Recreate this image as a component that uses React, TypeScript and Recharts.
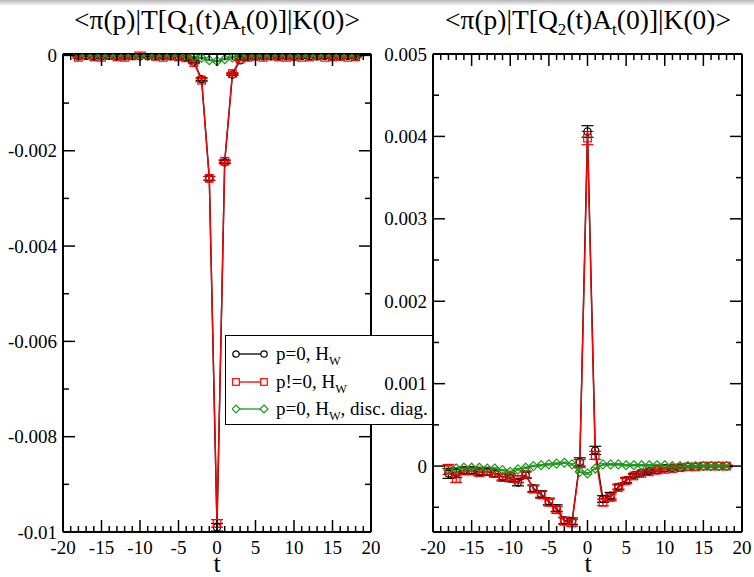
import { LineChart, Line, XAxis, YAxis, ErrorBar } from "recharts";

// time slices
const T = [-18, -17, -16, -15, -14, -13, -12, -11, -10, -9, -8, -7, -6, -5, -4, -3, -2, -1, 0,
  1, 2, 3, 4, 5, 6, 7, 8, 9, 10, 11, 12, 13, 14, 15, 16, 17, 18];

// Q1 panel
const q1P0 = [-0.00002, -0.00001, -0.00002, -0.00002, -0.00001, -0.00002, -0.00002, -0.00001, -0.00002, -0.00002,
  -0.00002, -0.00002, -0.00002, -0.00003, -0.00004, -0.00013, -0.0005, -0.00258, -0.0099,
  -0.00224, -0.0004, -0.0001, -0.00003, -0.00002, -0.00002, -0.00002, -0.00001, -0.00002, -0.00002,
  -0.00001, -0.00002, -0.00002, -0.00001, -0.00002, -0.00002, -0.00001, -0.00002];
const q1P0Err = [0.00001, 0.00001, 0.00001, 0.00001, 0.00001, 0.00001, 0.00001, 0.00001, 0.00001, 0.00001,
  0.00001, 0.00001, 0.00001, 0.00001, 0.00001, 0.00002, 0.00003, 0.00004, 0.00008,
  0.00003, 0.00002, 0.00001, 0.00001, 0.00001, 0.00001, 0.00001, 0.00001, 0.00001, 0.00001,
  0.00001, 0.00001, 0.00001, 0.00001, 0.00001, 0.00001, 0.00001, 0.00001];
const q1Pn0 = [-0.00004, 0.00001, -0.00003, -0.00004, 0.0, -0.00003, -0.00004, -0.00001, 0.00005, 0.00002,
  -0.00002, -0.00004, -0.00001, -0.00003, -0.00005, -0.00015, -0.00052, -0.00258, -0.00982,
  -0.00222, -0.00038, -0.00008, -0.00004, -0.00002, -0.00004, -0.00001, -0.00003, -0.00004, -0.00002,
  -0.00004, -0.00003, -0.00001, -0.00004, -0.00003, -0.00002, -0.00004, -0.00003];
const q1Pn0Err = [0.00002, 0.00002, 0.00002, 0.00002, 0.00002, 0.00002, 0.00002, 0.00002, 0.00002, 0.00002,
  0.00002, 0.00002, 0.00002, 0.00002, 0.00002, 0.00002, 0.00003, 0.00004, 0.00008,
  0.00003, 0.00002, 0.00002, 0.00002, 0.00002, 0.00002, 0.00002, 0.00002, 0.00002, 0.00002,
  0.00002, 0.00002, 0.00002, 0.00002, 0.00002, 0.00002, 0.00002, 0.00002];
const q1Disc = [0.00001, 0.00001, 0.00001, 0.00001, 0.00001, 0.00001, 0.00001, 0.00001, 0.00001, 0.00001,
  0.00001, 0.00001, 0.00001, 0.00001, 0.0, -0.00003, -0.00005, -0.0001, -0.00012,
  -0.00008, -0.00004, -0.00001, 0.00001, 0.00001, 0.00001, 0.00001, 0.00001, 0.00001, 0.00001,
  0.00001, 0.00001, 0.00001, 0.00001, 0.00001, 0.00001, 0.00001, 0.00001];
const q1DiscErr = [0.00001, 0.00001, 0.00001, 0.00001, 0.00001, 0.00001, 0.00001, 0.00001, 0.00001, 0.00001,
  0.00001, 0.00001, 0.00001, 0.00001, 0.00001, 0.00001, 0.00001, 0.00001, 0.00001,
  0.00001, 0.00001, 0.00001, 0.00001, 0.00001, 0.00001, 0.00001, 0.00001, 0.00001, 0.00001,
  0.00001, 0.00001, 0.00001, 0.00001, 0.00001, 0.00001, 0.00001, 0.00001];

// Q2 panel
const q2P0 = [-0.00009, -0.00008, -0.00005, -0.00005, -0.00007, -0.00007, -0.00009, -0.00013, -0.00015, -0.0002,
  -0.00011, -0.00027, -0.00034, -0.00043, -0.00051, -0.00066, -0.00067, 0.00005, 0.00406,
  0.00019, -0.0004, -0.00036, -0.00025, -0.00017, -0.00011, -0.00008, -0.00006, -0.00005, -0.00003,
  -0.00002, -0.00002, -0.00001, -0.00001, 0.0, 0.0, 0.0, 0.0];
const q2P0Err = [0.00006, 0.00006, 0.00004, 0.00004, 0.00004, 0.00004, 0.00004, 0.00004, 0.00004, 0.00004,
  0.00004, 0.00004, 0.00004, 0.00004, 0.00004, 0.00004, 0.00004, 0.00005, 0.00007,
  0.00005, 0.00004, 0.00004, 0.00003, 0.00003, 0.00002, 0.00002, 0.00002, 0.00002, 0.00001,
  0.00001, 0.00001, 0.00001, 0.00001, 0.00001, 0.00001, 0.00001, 0.00001];
const q2Pn0 = [-0.00004, -0.00015, -0.00006, -0.00006, -0.00008, -0.00006, -0.00009, -0.00014, -0.00013, -0.00016,
  -0.0001, -0.00028, -0.00035, -0.00044, -0.00053, -0.00067, -0.00069, 0.00003, 0.00398,
  0.00013, -0.00044, -0.00038, -0.00026, -0.00018, -0.00012, -0.00009, -0.00007, -0.00005, -0.00004,
  -0.00003, -0.00002, -0.00001, -0.00001, 0.0, 0.0, 0.0, 0.0];
const q2Pn0Err = [0.00006, 0.00005, 0.00004, 0.00004, 0.00004, 0.00004, 0.00004, 0.00004, 0.00004, 0.00004,
  0.00004, 0.00004, 0.00004, 0.00004, 0.00004, 0.00004, 0.00004, 0.00005, 0.00008,
  0.00005, 0.00004, 0.00004, 0.00003, 0.00003, 0.00002, 0.00002, 0.00002, 0.00002, 0.00002,
  0.00001, 0.00001, 0.00001, 0.00001, 0.00001, 0.00001, 0.00001, 0.00001];
const q2Disc = [-0.00005, -0.00003, -0.00002, -0.00002, -0.00002, -0.00003, -0.00003, -0.00005, -0.00007, -0.00004,
  -0.00002, 0.0, 0.00001, 0.00002, 0.00003, 0.00004, 0.00002, -0.00007, -0.00009,
  -0.00003, 0.00002, 0.00002, 0.00002, 0.00001, 0.00001, 0.00001, 0.00001, 0.00001, 0.00001,
  0.0, 0.0, 0.0, 0.0, 0.0, 0.0, 0.0, 0.0];
const q2DiscErr = [0.00001, 0.00001, 0.00001, 0.00001, 0.00001, 0.00001, 0.00001, 0.00001, 0.00001, 0.00001,
  0.00001, 0.00001, 0.00001, 0.00001, 0.00001, 0.00001, 0.00001, 0.00001, 0.00001,
  0.00001, 0.00001, 0.00001, 0.00001, 0.00001, 0.00001, 0.00001, 0.00001, 0.00001, 0.00001,
  0.00001, 0.00001, 0.00001, 0.00001, 0.00001, 0.00001, 0.00001, 0.00001];

// ticks
const X_TICKS = [-20, -19, -18, -17, -16, -15, -14, -13, -12, -11, -10, -9, -8, -7, -6, -5, -4, -3, -2, -1, 0,
  1, 2, 3, 4, 5, 6, 7, 8, 9, 10, 11, 12, 13, 14, 15, 16, 17, 18, 19, 20];
const Q1_Y_TICKS = [-0.01, -0.009, -0.008, -0.007, -0.006, -0.005, -0.004, -0.003, -0.002, -0.001, 0];
const Q2_Y_TICKS = [-0.0005, 0, 0.0005, 0.001, 0.0015, 0.002, 0.0025, 0.003, 0.0035, 0.004, 0.0045, 0.005];

const SERIF = "'Liberation Serif', 'DejaVu Serif', serif";
const GREEN = "#1e961e";
const AXIS = { stroke: "#000", strokeWidth: 2 };
const H = 577;
const PLOT_TOP = 54;
const X_AXIS_H = 45;

const rows = (b: number[], be: number[], r: number[], re: number[], g: number[], ge: number[]) =>
  T.map((t, i) => ({ t, b: b[i], be: be[i], r: r[i], re: re[i], g: g[i], ge: ge[i] }));

const q1Data = rows(q1P0, q1P0Err, q1Pn0, q1Pn0Err, q1Disc, q1DiscErr);
const q2Data = rows(q2P0, q2P0Err, q2Pn0, q2Pn0Err, q2Disc, q2DiscErr);

const fmt = (v: number) => String(Number(v.toFixed(4)));

// dot shapes
const circleDot = (p: any) => (
  <circle key={`c${p.index}`} cx={p.cx} cy={p.cy} r={3.6} fill="none" stroke="#000" strokeWidth={1.2} />
);
const squareDot = (p: any) => (
  <rect key={`s${p.index}`} x={p.cx - 3.8} y={p.cy - 3.8} width={7.6} height={7.6}
    fill="none" stroke="#f00" strokeWidth={1.2} />
);
const diamondDot = (p: any) => (
  <polygon key={`d${p.index}`}
    points={`${p.cx},${p.cy - 4.5} ${p.cx + 4.5},${p.cy} ${p.cx},${p.cy + 4.5} ${p.cx - 4.5},${p.cy}`}
    fill="none" stroke={GREEN} strokeWidth={1.2} />
);

const isMajorX = (v: number) => Math.round(v) % 5 === 0;

function Panel({ data, left, width, yWidth, yDomain, yTicks, isMajorY, marginRight }: any) {
  // plot frame in chart-local pixels (mirrored axes take 1px each)
  const pLeft = yWidth;
  const pRight = width - marginRight - 1;
  const pTop = PLOT_TOP;
  const pBottom = H - X_AXIS_H;

  const bottomTick = (p: any) => {
    const major = isMajorX(p.payload.value);
    return (
      <g key={`bt${p.index}`}>
        <line x1={p.x} x2={p.x} y1={pBottom} y2={pBottom - (major ? 12 : 6)} stroke="#000" strokeWidth={1.5} />
        {major && (
          <text x={p.x} y={pBottom + 22} textAnchor="middle" fontSize={19} fontFamily={SERIF} fill="#000">
            {p.payload.value}
          </text>
        )}
      </g>
    );
  };
  const topTick = (p: any) => {
    const major = isMajorX(p.payload.value);
    return (
      <line key={`tt${p.index}`} x1={p.x} x2={p.x} y1={pTop} y2={pTop + (major ? 12 : 6)}
        stroke="#000" strokeWidth={1.5} />
    );
  };
  const leftTick = (p: any) => {
    const major = isMajorY(p.payload.value);
    return (
      <g key={`lt${p.index}`}>
        <line x1={pLeft} x2={pLeft + (major ? 12 : 6)} y1={p.y} y2={p.y} stroke="#000" strokeWidth={1.5} />
        {major && (
          <text x={pLeft - 6} y={p.y} dy="0.35em" textAnchor="end" fontSize={19} fontFamily={SERIF} fill="#000">
            {fmt(p.payload.value)}
          </text>
        )}
      </g>
    );
  };
  const rightTick = (p: any) => {
    const major = isMajorY(p.payload.value);
    return (
      <line key={`rt${p.index}`} x1={pRight} x2={pRight - (major ? 12 : 6)} y1={p.y} y2={p.y}
        stroke="#000" strokeWidth={1.5} />
    );
  };

  return (
    <div style={{ position: "absolute", left, top: 0 }}>
      <LineChart width={width} height={H} data={data}
        margin={{ top: PLOT_TOP - 1, right: marginRight, bottom: 0, left: 0 }}>
        <XAxis xAxisId="b" dataKey="t" type="number" domain={[-20, 20]} allowDataOverflow
          ticks={X_TICKS} interval={0} height={X_AXIS_H} tickSize={0} tickMargin={0}
          tickLine={false} axisLine={AXIS} tick={bottomTick} />
        <XAxis xAxisId="top" dataKey="t" orientation="top" type="number" domain={[-20, 20]} allowDataOverflow
          ticks={X_TICKS} interval={0} height={1} tickSize={0} tickMargin={0}
          tickLine={false} axisLine={AXIS} tick={topTick} />
        <YAxis yAxisId="l" type="number" domain={yDomain} allowDataOverflow
          ticks={yTicks} interval={0} width={yWidth} tickSize={0} tickMargin={0}
          tickLine={false} axisLine={AXIS} tick={leftTick} />
        <YAxis yAxisId="r" orientation="right" type="number" domain={yDomain} allowDataOverflow
          ticks={yTicks} interval={0} width={1} tickSize={0} tickMargin={0}
          tickLine={false} axisLine={AXIS} tick={rightTick} />

        {/* invisible copy that ties the mirrored top/right axes to data */}
        <Line xAxisId="top" yAxisId="r" type="linear" dataKey="b" stroke="none" dot={false}
          activeDot={false} legendType="none" isAnimationActive={false} />

        <Line xAxisId="b" yAxisId="l" type="linear" dataKey="b" stroke="#000" strokeWidth={1.4}
          dot={circleDot} activeDot={false} isAnimationActive={false}>
          <ErrorBar dataKey="be" direction="y" width={6} stroke="#000" strokeWidth={1.2} />
        </Line>
        <Line xAxisId="b" yAxisId="l" type="linear" dataKey="r" stroke="#f00" strokeWidth={1.4}
          dot={squareDot} activeDot={false} isAnimationActive={false}>
          <ErrorBar dataKey="re" direction="y" width={6} stroke="#f00" strokeWidth={1.2} />
        </Line>
        <Line xAxisId="b" yAxisId="l" type="linear" dataKey="g" stroke={GREEN} strokeWidth={1.4}
          dot={diamondDot} activeDot={false} isAnimationActive={false}>
          <ErrorBar dataKey="ge" direction="y" width={4} stroke={GREEN} strokeWidth={1} />
        </Line>
      </LineChart>
    </div>
  );
}

const subStyle = { fontSize: "0.62em", verticalAlign: "-0.35em", lineHeight: 0 } as const;

function Title({ sub, center }: { sub: string; center: number }) {
  return (
    <div style={{
      position: "absolute", left: center - 200, width: 400, top: 6, textAlign: "center",
      fontFamily: SERIF, fontSize: 27.5, lineHeight: "27px", color: "#000", whiteSpace: "nowrap",
    }}>
      &lt;π(p)|T[Q<span style={subStyle}>{sub}</span>(t)A<span style={subStyle}>t</span>(0)]|K(0)&gt;
    </div>
  );
}

const LEGEND = [
  { label: "p=0, H", tail: "", color: "#000", shape: "circle" },
  { label: "p!=0, H", tail: "", color: "#f00", shape: "square" },
  { label: "p=0, H", tail: ", disc. diag.", color: GREEN, shape: "diamond" },
];

function Marker({ shape, color, x }: { shape: string; color: string; x: number }) {
  if (shape === "circle") return <circle cx={x} cy={10} r={3.2} fill="#fff" stroke={color} strokeWidth={1.2} />;
  if (shape === "square")
    return <rect x={x - 3.3} y={6.7} width={6.6} height={6.6} fill="#fff" stroke={color} strokeWidth={1.2} />;
  return <polygon points={`${x},6 ${x + 4},10 ${x},14 ${x - 4},10`} fill="#fff" stroke={color} strokeWidth={1.2} />;
}

export default function App() {
  return (
    <div style={{ position: "absolute", left: 0, top: 0, width: 754, height: H, background: "#fff", overflow: "hidden" }}>
      <div style={{ position: "absolute", left: 0, top: 0, width: 754, height: 6,
        background: "linear-gradient(#b4b4b4, #fff)" }} />
      <Panel data={q1Data} left={0} width={380} yWidth={63} marginRight={8}
        yDomain={[-0.01, 0.00003]} yTicks={Q1_Y_TICKS}
        isMajorY={(v: number) => Math.abs(Math.round(v * 1000)) % 2 === 0} />

      {/* legend sits above the left panel but below the right panel's labels */}
      <div style={{
        position: "absolute", left: 225, top: 335, width: 206, height: 88,
        border: "1.5px solid #000", background: "#fff", fontFamily: SERIF, fontSize: 19, color: "#000",
      }}>
        {LEGEND.map((it, i) => (
          <div key={i} style={{ position: "absolute", left: 0, top: 8 + i * 27.5, height: 20,
            display: "flex", alignItems: "center", whiteSpace: "nowrap" }}>
            <svg width={44} height={20} style={{ marginLeft: 6 }}>
              <line x1={4} x2={32} y1={10} y2={10} stroke={it.color} strokeWidth={1.3} />
              <Marker shape={it.shape} color={it.color} x={4} />
              <Marker shape={it.shape} color={it.color} x={32} />
            </svg>
            <span style={{ lineHeight: "20px" }}>
              {it.label}<span style={{ fontSize: "0.65em", verticalAlign: "-0.4em", lineHeight: 0 }}>W</span>{it.tail}
            </span>
          </div>
        ))}
      </div>

      <Panel data={q2Data} left={380} width={374} yWidth={53} marginRight={11}
        yDomain={[-0.0008, 0.005]} yTicks={Q2_Y_TICKS}
        isMajorY={(v: number) => Math.abs(Math.round(v * 2000)) % 2 === 0} />

      <Title sub="1" center={217} />
      <Title sub="2" center={588} />
      {[217, 588].map((c) => (
        <div key={c} style={{ position: "absolute", left: c - 20, width: 40, top: 551, textAlign: "center",
          fontFamily: SERIF, fontSize: 26, lineHeight: "26px", color: "#000" }}>t</div>
      ))}
    </div>
  );
}
